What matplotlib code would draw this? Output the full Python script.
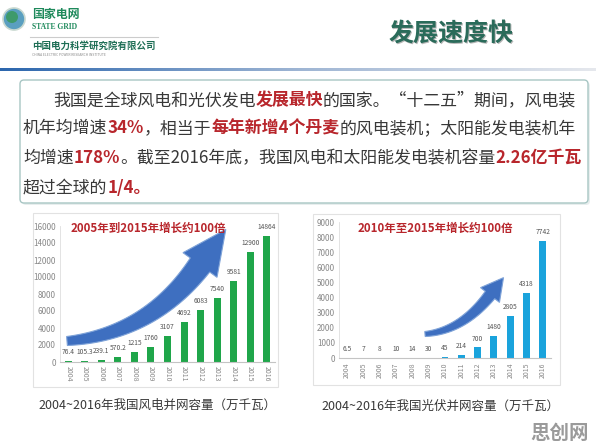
import numpy as np
import matplotlib
matplotlib.use("Agg")
import matplotlib.pyplot as plt
from matplotlib.transforms import Affine2D
from matplotlib.patches import Rectangle, FancyBboxPatch, Polygon, Circle

plt.rcParams['font.family'] = ['Noto Sans CJK SC', 'DejaVu Sans']

# data
years = ['2004', '2005', '2006', '2007', '2008', '2009', '2010',
         '2011', '2012', '2013', '2014', '2015', '2016']
wind = [76.4, 105.3, 239.1, 570.2, 1215, 1760, 3107, 4692, 6083, 7540, 9581, 12900, 14864]
wind_labels = ['76.4', '105.3', '239.1', '570.2', '1215', '1760', '3107',
               '4692', '6083', '7540', '9581', '12900', '14864']
solar = [6.5, 7, 8, 10, 14, 30, 45, 214, 700, 1480, 2805, 4318, 7742]
solar_labels = ['6.5', '7', '8', '10', '14', '30', '45', '214', '700',
                '1480', '2805', '4318', '7742']

W, H = 596, 446
fig = plt.figure(figsize=(W / 100, H / 100), dpi=100)
fig.patch.set_facecolor('white')
# pixel coords, origin top-left
T = Affine2D().scale(1, -1).translate(0, H)
renderer = fig.canvas.get_renderer()

GREEN_DARK = '#1d6e55'
RED = '#b8262c'
TXT = '#383838'


def px_axes(x, y, w, h):
    return fig.add_axes([x / W, 1 - (y + h) / H, w / W, h / H])


# ---- header ----
fig.patches.append(Circle((14, 19), 11, transform=T, facecolor='#5a9fc0', edgecolor='#c8d8d0', lw=1.2))
fig.patches.append(Circle((12, 17), 6, transform=T, facecolor='#3e9a6a', edgecolor='none'))
fig.text(32, 14, '国家电网', transform=T, fontsize=8.6, fontweight='bold', color='#1f8a5c', va='center')
fig.text(32, 27, 'STATE GRID', transform=T, fontsize=5.5, fontweight='bold', color='#1f8a5c',
         va='center', family='Liberation Serif')
fig.lines.append(plt.Line2D([30, 158], [37, 37], transform=T, color='#cccccc', lw=0.8))
fig.text(32, 46, '中国电力科学研究院有限公司', transform=T, fontsize=6.8, fontweight='bold',
         color=GREEN_DARK, va='center')
fig.text(32, 55, 'CHINA ELECTRIC POWER RESEARCH INSTITUTE', transform=T, fontsize=2.4,
         color='#888888', va='center')

fig.text(452.5, 35, '发展速度快', transform=T, fontsize=18, fontweight='bold', color='#b5b5b5',
         ha='center', va='center')
fig.text(451, 33.5, '发展速度快', transform=T, fontsize=18, fontweight='bold', color='#2a6b5a',
         ha='center', va='center')

# gradient rule under the header
gax = px_axes(0, 68, W, 3)
xs = np.linspace(0, 1, W)
c0 = np.array([0.17, 0.40, 0.68])
c1 = np.array([0.62, 0.71, 0.83])
c2 = np.array([0.90, 0.91, 0.93])
grad = np.zeros((1, W, 3))
for i in range(3):
    grad[0, :, i] = np.interp(xs, [0, 0.5, 1], [c0[i], c1[i], c2[i]])
gax.imshow(grad, aspect='auto')
gax.axis('off')

# ---- paragraph box ----
fig.patches.append(FancyBboxPatch((22, 82), 568, 123, transform=T, boxstyle='round,pad=0,rounding_size=4',
                                  facecolor='#e8eeee', edgecolor='none', zorder=0.4))
fig.patches.append(FancyBboxPatch((20, 80), 568, 123, transform=T, boxstyle='round,pad=0,rounding_size=4',
                                  facecolor='white', edgecolor='#a8c6c4', lw=1.0, zorder=0.5))

FS = 12.2
lines = [
    (53, 100, [('我国是全球风电和光伏发电', 0), ('发展最快', 1), ('的国家。“十二五”期间，风电装', 0)]),
    (23, 128, [('机年均增速', 0), ('34%', 1), ('，相当于', 0), ('每年新增4个丹麦', 1),
               ('的风电装机；太阳能发电装机年', 0)]),
    (23, 158, [('均增速', 0), ('178%', 1), ('。截至2016年底，我国风电和太阳能发电装机容量', 0),
               ('2.26亿千瓦', 1)]),
    (23, 188, [('超过全球的', 0), ('1/4。', 1)]),
]
for x0, y0, segs in lines:
    x = x0
    for s, hot in segs:
        t = fig.text(x, y0, s, transform=T, fontsize=FS, va='center',
                     color=RED if hot else TXT, fontweight='bold' if hot else 'normal')
        x += t.get_window_extent(renderer).width

# ---- chart panels ----
fig.patches.append(Rectangle((33, 213), 245, 174, transform=T, facecolor='white',
                             edgecolor='#e2e2e2', lw=0.8, zorder=0.5))
fig.patches.append(Rectangle((313, 214), 247, 171, transform=T, facecolor='white',
                             edgecolor='#e2e2e2', lw=0.8, zorder=0.5))


def bar_chart(ax, vals, labels, ymax, step, color, rot):
    x = np.arange(len(years))
    ax.bar(x, vals, width=0.42, color=color)
    for xi, v, lab in zip(x, vals, labels):
        ax.annotate(lab, (xi, v), xytext=(0, 3.5), textcoords='offset points', ha='center',
                    va='bottom', fontsize=4.8, color='#555555')
    ax.set_xlim(-0.5, len(years) - 0.5)
    ax.set_ylim(0, ymax)
    ax.set_yticks(np.arange(0, ymax + 1, step))
    ax.set_xticks(x)
    ax.set_xticklabels(years, rotation=rot, fontsize=5, color='#888888')
    ax.tick_params(axis='y', labelsize=5.8, colors='#888888', length=0, pad=3)
    ax.tick_params(axis='x', length=0, pad=3)
    ax.set_facecolor('none')
    ax.set_zorder(1)
    for sp in ['top', 'right']:
        ax.spines[sp].set_visible(False)
    ax.spines['left'].set_color('#dedede')
    ax.spines['left'].set_linewidth(0.6)
    ax.spines['bottom'].set_color('#c4c4c4')
    ax.spines['bottom'].set_linewidth(0.8)


ax1 = px_axes(60, 226, 215, 136)
bar_chart(ax1, wind, wind_labels, 16000, 2000, '#1fa64a', -90)
ax2 = px_axes(339, 222, 212, 136)
bar_chart(ax2, solar, solar_labels, 9000, 1000, '#1aa3dc', 90)


# curved growth arrows (decoration)
def fat_arrow(p0, p1, p2, w0, w1, head_w, head_l, color):
    p0, p1, p2 = map(np.array, (p0, p1, p2))
    s = np.linspace(0, 1, 40)[:, None]
    pts = (1 - s) ** 2 * p0 + 2 * (1 - s) * s * p1 + s ** 2 * p2
    d = 2 * (1 - s) * (p1 - p0) + 2 * s * (p2 - p1)
    d = d / np.linalg.norm(d, axis=1, keepdims=True)
    nrm = np.column_stack([-d[:, 1], d[:, 0]])
    w = (w0 + (w1 - w0) * s[:, 0])[:, None] / 2
    upper = pts + nrm * w
    lower = pts - nrm * w
    tang = d[-1]
    n_end = nrm[-1]
    tip = p2 + tang * head_l
    head = [p2 + n_end * head_w / 2, tip, p2 - n_end * head_w / 2]
    poly = np.vstack([upper, head, lower[::-1]])
    fig.patches.append(Polygon(poly, closed=True, transform=T, facecolor=color,
                               edgecolor='#7fa3d8', lw=0.8, zorder=3))


fat_arrow((67, 341), (150, 334), (200, 265), 9, 24, 42, 44, '#3e6fc0')
fat_arrow((425, 334), (462, 331), (490, 295), 5, 12, 24, 22, '#3e6fc0')

fig.text(148, 228, '2005年到2015年增长约100倍', transform=T, fontsize=8.3, fontweight='bold',
         color=RED, ha='center', va='center', zorder=4)
fig.text(435, 228, '2010年至2015年增长约100倍', transform=T, fontsize=8.3, fontweight='bold',
         color=RED, ha='center', va='center', zorder=4)

# captions
fig.text(38, 405, '2004~2016年我国风电并网容量（万千瓦）', transform=T, fontsize=9, color=TXT, va='center')
fig.text(321, 406, '2004~2016年我国光伏并网容量（万千瓦）', transform=T, fontsize=9, color=TXT, va='center')

# watermark
fig.text(589, 433, '思创网', transform=T, fontsize=14, fontweight='bold', color='#9a9a9a',
         ha='right', va='center')

fig.savefig('out.png', dpi=100)
